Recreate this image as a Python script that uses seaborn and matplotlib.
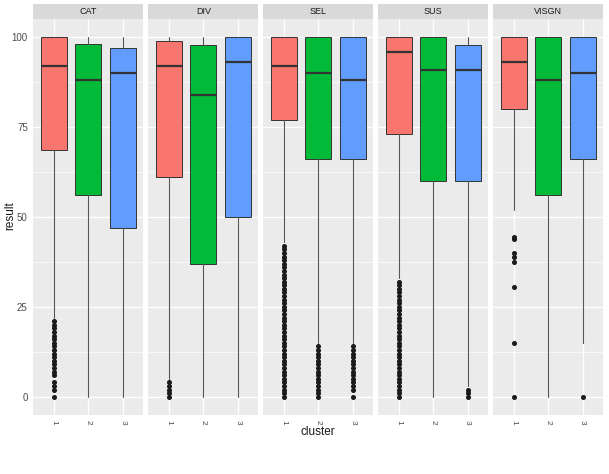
import numpy as np
import pandas as pd
import matplotlib
matplotlib.use("Agg")
import matplotlib.pyplot as plt
import seaborn as sns
from matplotlib.patches import Rectangle

# values
facets = ["CAT", "DIV", "SEL", "SUS", "VISGN"]
clusters = ["1", "2", "3"]

medians = [[92, 88, 90], [92, 84, 93], [92, 90, 88], [96, 91, 91], [93, 88, 90]]
q1 = [[68.7, 56, 47], [61, 37, 50], [77, 66, 66], [73, 60, 60], [80, 56, 66]]
q3 = [[100, 98, 96.9], [98.8, 97.8, 100], [100, 100, 100], [100, 100, 97.8], [100, 100, 100]]
whisk_lo = [[22, 0, 0], [5, 0, 0], [43, 15, 15], [33, 0, 3], [52, 0, 15]]
whisk_hi = [[100, 100, 100], [100, 100, 100], [100, 100, 100], [100, 100, 100], [100, 100, 100]]

outliers = {
    ("CAT", "1"): [0, 2, 3, 4, 6, 7, 8, 9, 10, 11, 12, 13, 14, 15, 16, 17, 18, 19, 20, 21],
    ("DIV", "1"): [0, 1, 2, 3, 4],
    ("SEL", "1"): [0, 1, 2, 3, 4, 5, 6, 7, 8, 9, 10, 11, 12, 13, 14, 15, 16, 17, 18, 19, 20,
                   21, 22, 23, 24, 25, 26, 27, 28, 29, 30, 31, 32, 33, 34, 35, 36, 37, 38,
                   39, 40, 41, 42],
    ("SEL", "2"): [0, 1, 2, 3, 4, 5, 6, 7, 8, 9, 10, 11, 12, 13, 14],
    ("SEL", "3"): [0, 2, 3, 4, 5, 6, 7, 8, 9, 10, 11, 12, 13, 14],
    ("SUS", "1"): [0, 1, 2, 3, 4, 5, 6, 7, 8, 9, 10, 11, 12, 13, 14, 15, 16, 17, 18, 19, 20,
                   21, 22, 23, 24, 25, 26, 27, 28, 29, 30, 31, 32],
    ("SUS", "3"): [0, 1, 2],
    ("VISGN", "1"): [0, 15, 30.6, 37.4, 38.9, 40, 44, 44.5],
    ("VISGN", "3"): [0],
}

colors = ["#F8766D", "#00BA38", "#619CFF"]

sns.set_theme(style="darkgrid", rc={
    "axes.facecolor": "#EBEBEB",
    "grid.color": "white",
    "axes.edgecolor": "#EBEBEB",
    "xtick.color": "#333333",
    "ytick.color": "#333333",
    "xtick.labelcolor": "#4D4D4D",
    "ytick.labelcolor": "#4D4D4D",
})
plt.rcParams["font.family"] = ["Liberation Sans", "DejaVu Sans"]

fig, axes = plt.subplots(1, 5, figsize=(6.09, 4.74), dpi=100, sharey=True)
fig.subplots_adjust(left=0.0547, right=0.9906, bottom=0.125, top=0.9595, wspace=0.045)

for i, (ax, name) in enumerate(zip(axes, facets)):
    stats = []
    for j, c in enumerate(clusters):
        stats.append(dict(med=medians[i][j], q1=q1[i][j], q3=q3[i][j],
                          whislo=whisk_lo[i][j], whishi=whisk_hi[i][j],
                          fliers=outliers.get((name, c), []), label=c))
    bp = ax.bxp(stats, positions=[1, 2, 3], widths=0.75, patch_artist=True,
                showcaps=False, zorder=3,
                boxprops=dict(edgecolor="#333333", linewidth=0.7),
                medianprops=dict(color="#333333", linewidth=1.6),
                whiskerprops=dict(color="#555555", linewidth=0.8),
                flierprops=dict(marker="o", markerfacecolor="#1A1A1A", markeredgecolor="#1A1A1A",
                                markersize=2.6, linestyle="none"))
    for patch, col in zip(bp["boxes"], colors):
        patch.set_facecolor(col)

    ax.set_xlim(0.4, 3.6)
    ax.set_ylim(-5, 105)
    ax.set_yticks([0, 25, 50, 75, 100])
    ax.set_yticks([12.5, 37.5, 62.5, 87.5], minor=True)
    ax.grid(which="major", color="white", linewidth=1.0)
    ax.grid(which="minor", axis="y", color="white", linewidth=0.5)
    ax.set_axisbelow(True)
    ax.set_xticks([1, 2, 3])
    ax.set_xticklabels(clusters, rotation=-90)
    ax.tick_params(axis="both", length=2.5, width=0.6, pad=1.5, labelsize=7)
    ax.tick_params(axis="x", labelsize=6)
    for s in ax.spines.values():
        s.set_visible(False)

    # facet strip
    strip = Rectangle((0, 1), 1, 0.0375, transform=ax.transAxes, clip_on=False,
                      facecolor="#D9D9D9", edgecolor="none")
    ax.add_patch(strip)
    ax.text(0.5, 1.019, name, transform=ax.transAxes, ha="center", va="center",
            fontsize=6.5, color="#1A1A1A")
    ax.set_xlabel("")
    ax.set_ylabel("")

fig.text(10 / 609, 0.545, "result", rotation=90, ha="center", va="center",
         fontsize=8.5, color="#1A1A1A")
fig.text(0.522, 0.088, "cluster", ha="center", va="center", fontsize=8.5, color="#1A1A1A")

fig.savefig("out.png", dpi=100)
